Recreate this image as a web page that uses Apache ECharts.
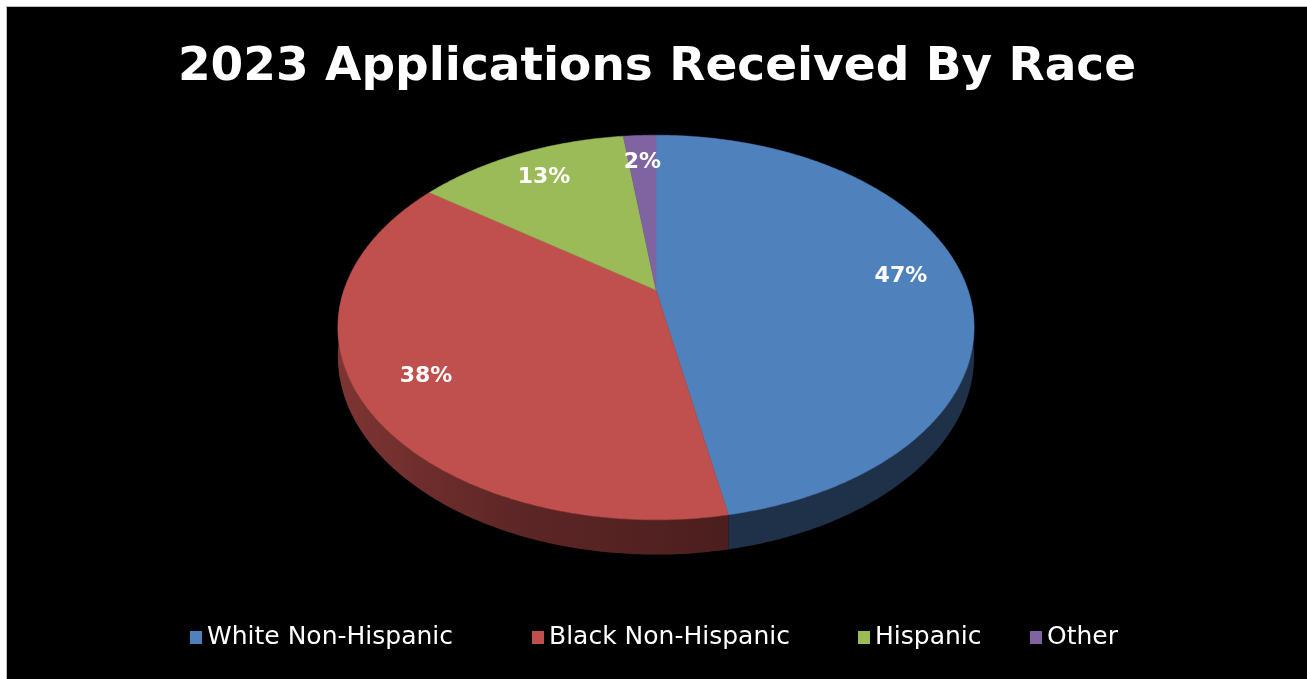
<!DOCTYPE html>
<html>
<head>
<meta charset="utf-8">
<script src="https://cdn.jsdelivr.net/npm/echarts@6/dist/echarts.min.js"></script>
<style>
  html, body { margin: 0; padding: 0; background: #ffffff; }
  #frame { position: absolute; left: 6px; top: 6px; width: 1301px; height: 673px; background: #bdbdbd; }
  #chart { position: absolute; left: 7px; top: 7px; width: 1300px; height: 672px; background: #000; }
</style>
</head>
<body>
<div id="frame"></div>
<div id="chart"></div>
<script>
// Applications received in 2023, share by race (percent)
const categories = ['White Non-Hispanic', 'Black Non-Hispanic', 'Hispanic', 'Other'];
const shares = [47, 38, 13, 2];
const topColors = ['#4f81bd', '#c0504d', '#9bbb59', '#8064a2'];
const wallColors = ['#1f3049', '#5a2424', '#4d5d2c', '#403251'];
const titleText = '2023 Applications Received By Race';

// Geometry of the tilted disc
const disc = {
  cx: 649, cy: 283,     // projected centre of the disc
  ax: 312, ay: 185,     // horizontal / depth half-axes before perspective
  persp: 0.195,         // perspective strength (front appears larger)
  depth: 28,            // wall thickness
  labelR: 0.8
};
// left edge of each legend entry
const legendLeft = [178, 520, 846, 1018];

const total = shares.reduce((a, b) => a + b, 0);
const starts = [];
let acc = 0;
shares.forEach(v => { starts.push(acc / total * Math.PI * 2); acc += v; });

// Project a point on the disc (angle from 12 o'clock, clockwise; radius fraction r)
function project(theta, r, drop) {
  const X = r * Math.sin(theta);
  const Z = -r * Math.cos(theta);           // +1 toward the viewer
  const w = 1 - disc.persp * Z;
  return [disc.cx + disc.ax * X / w, disc.cy + disc.ay * Z / w + (drop || 0) / w];
}

function arcPoints(t0, t1, r, drop) {
  const pts = [];
  const n = Math.max(4, Math.ceil((t1 - t0) / 0.01));
  for (let i = 0; i <= n; i++) pts.push(project(t0 + (t1 - t0) * i / n, r, drop));
  return pts;
}

function makeSeries(idx) {
  return {
    type: 'custom',
    name: categories[idx],
    coordinateSystem: 'none',
    color: topColors[idx],
    silent: true,
    data: [shares[idx]],
    renderItem: function (params, api) {
      const v = api.value(0);
      const t0 = starts[idx];
      const t1 = t0 + v / total * Math.PI * 2;
      const children = [];
      // visible front wall (between 90° and 270°)
      const a = Math.max(t0, Math.PI / 2), b = Math.min(t1, Math.PI * 1.5);
      if (b > a) {
        const top = arcPoints(a, b, 1, 0);
        const bottom = arcPoints(a, b, 1, disc.depth).reverse();
        let fill = wallColors[idx];
        if (idx === 1) {
          fill = new echarts.graphic.LinearGradient(0, 0, 1, 0, [
            { offset: 0, color: '#7d3533' },
            { offset: 0.45, color: '#5e2626' },
            { offset: 1, color: '#4c1e1e' }
          ]);
        }
        children.push({
          type: 'polygon', z2: 1,
          shape: { points: top.concat(bottom) },
          style: { fill: fill }
        });
      }
      // top face
      const face = [project(0, 0)].concat(arcPoints(t0, t1, 1, 0));
      children.push({
        type: 'polygon', z2: 10,
        shape: { points: face },
        style: { fill: topColors[idx], stroke: topColors[idx], lineWidth: 0.5 }
      });
      // value label
      const lp = project((t0 + t1) / 2, disc.labelR, 0);
      children.push({
        type: 'text', z2: 20,
        x: lp[0], y: lp[1],
        style: {
          text: Math.round(v / total * 100) + '%',
          fill: '#ffffff',
          font: 'bold 22px "DejaVu Sans", sans-serif',
          align: 'center', verticalAlign: 'middle'
        }
      });
      return { type: 'group', children: children };
    }
  };
}

const chart = echarts.init(document.getElementById('chart'), null, { renderer: 'canvas' });
chart.setOption({
  backgroundColor: '#000000',
  animation: false,
  title: {
    text: titleText,
    left: 'center',
    top: 32,
    textStyle: { color: '#ffffff', fontSize: 47, fontWeight: 'bold', fontFamily: '"DejaVu Sans", sans-serif' }
  },
  legend: categories.map((c, i) => ({
    data: [c],
    left: legendLeft[i],
    top: 613,
    icon: 'rect',
    itemWidth: 12,
    itemHeight: 13,
    textStyle: { color: '#ffffff', fontSize: 25, fontFamily: '"DejaVu Sans", sans-serif' }
  })),
  series: categories.map((c, i) => makeSeries(i))
});
</script>
</body>
</html>
